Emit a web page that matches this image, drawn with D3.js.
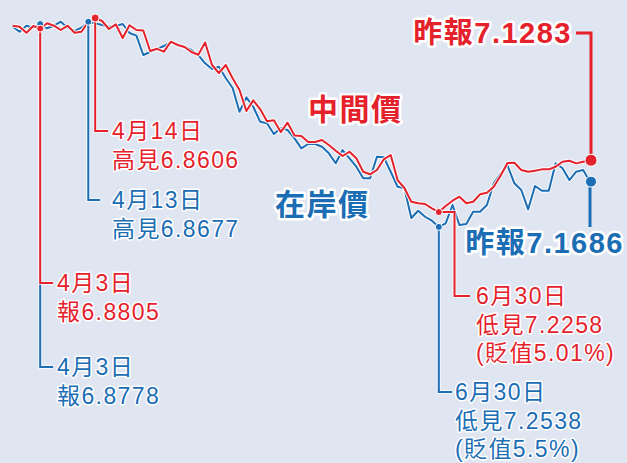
<!DOCTYPE html>
<html>
<head>
<meta charset="utf-8">
<script src="https://cdn.jsdelivr.net/npm/d3@7"></script>
<style>
body{margin:0;background:#dfe5f1;}
svg{display:block;}
text{font-family:"Liberation Sans","Noto Sans CJK TC",sans-serif;paint-order:stroke;stroke:#fff;stroke-linejoin:round;}
</style>
</head>
<body>
<div id="chart"></div>
<script>
// trading days 2023-03-28 .. 2023-08-01
var dates = ["3/28","3/29","3/30","3/31",
"4/3","4/4","4/6","4/7","4/10","4/11","4/12","4/13","4/14","4/17","4/18","4/19","4/20","4/21","4/24","4/25","4/26","4/27","4/28",
"5/4","5/5","5/8","5/9","5/10","5/11","5/12","5/15","5/16","5/17","5/18","5/19","5/22","5/23","5/24","5/25","5/26","5/29","5/30","5/31",
"6/1","6/2","6/5","6/6","6/7","6/8","6/9","6/12","6/13","6/14","6/15","6/16","6/19","6/20","6/21","6/26","6/27","6/28","6/29","6/30",
"7/3","7/4","7/5","7/6","7/7","7/10","7/11","7/12","7/13","7/14","7/17","7/18","7/19","7/20","7/21","7/24","7/25","7/26","7/27","7/28","7/31",
"8/1"];

// 中間價
var midRate = [6.8751,6.8770,6.8883,6.8757,6.8805,6.8706,6.8751,6.8832,6.8751,6.8883,6.8864,6.8681,6.8606,6.8662,6.8813,6.8725,6.8983,6.8743,6.8832,6.8841,
6.9227,6.9186,6.9240,6.9052,6.9114,6.9152,6.9246,6.9297,6.9067,6.9491,6.9641,6.9491,6.9741,6.9962,7.0357,7.0156,7.0320,7.0549,7.0532,7.0753,
7.0577,7.0818,7.0828,7.0941,7.0941,7.0903,7.0997,7.1104,7.1204,7.1123,7.1247,7.1499,7.1548,7.1467,7.1266,7.1185,7.1656,7.1806,7.2064,7.2094,
7.2107,7.2188,7.2258,7.2145,7.2045,7.1970,7.2094,7.2064,7.1925,7.1895,7.1782,7.1571,7.1336,7.1330,7.1468,7.1500,7.1481,7.1455,7.1455,7.1405,
7.1311,7.1292,7.1342,7.1311,7.1283];

// 在岸價
var onshoreRate = [6.8770,6.8864,6.8751,6.8789,6.8720,6.8800,6.8751,6.8676,6.8789,6.8851,6.8789,6.8677,6.8706,6.8738,6.8770,6.8757,6.8719,6.8888,6.8939,6.9303,
6.9246,6.9190,6.9133,6.9063,6.9101,6.9146,6.9208,6.9303,6.9459,6.9566,6.9523,6.9736,6.9924,7.0370,7.0099,7.0276,7.0558,7.0588,7.0790,7.0683,
7.0714,7.0871,7.1059,7.0978,7.0978,7.1029,7.1153,7.1341,7.1091,7.1247,7.1405,7.1624,7.1624,7.1217,7.1228,7.1499,7.1782,7.1812,7.2371,7.2233,
7.2347,7.2422,7.2538,7.2471,7.2126,7.2503,7.2484,7.2253,7.2253,7.2126,7.1718,7.1530,7.1383,7.1718,7.1844,7.2207,7.1769,7.1857,7.1857,7.1341,
7.1435,7.1656,7.1499,7.1467,7.1686];

var seriesNames = ["中間價","在岸價"];

var RED = "#e5222b", BLUE = "#1b6db4";
var W = 627, H = 463;

var svg = d3.select("#chart").append("svg")
  .attr("width", W).attr("height", H);

var x = d3.scalePoint().domain(dates).range([12.7, 590]);
var y = d3.scaleLinear().domain([6.8606, 7.2538]).range([18, 226.9]);

function pt(series, date){
  var arr = series === "mid" ? midRate : onshoreRate;
  var i = dates.indexOf(date);
  return [x(date), y(arr[i])];
}

var line = d3.line()
  .x(function(d){ return x(d.date); })
  .y(function(d){ return y(d.v); });

function rows(arr){
  return dates.map(function(d,i){ return {date:d, v:arr[i]}; });
}

var lines = [{data:rows(onshoreRate), col:BLUE},{data:rows(midRate), col:RED}];

var g = svg.append("g");
lines.forEach(function(s){
  g.append("path").attr("d", line(s.data))
    .attr("fill","none").attr("stroke","#fff").attr("stroke-opacity",0.85)
    .attr("stroke-width",4).attr("stroke-linejoin","round");
  g.append("path").attr("d", line(s.data))
    .attr("fill","none").attr("stroke",s.col)
    .attr("stroke-width",2).attr("stroke-linejoin","round");
});

// annotations: leader path steps after the dot, then text
var notes = [
  {s:"on", date:"4/3", col:BLUE, r:3.5, steps:[["V",367],["H",53]], tx:57, ty:367, lines:["4月3日","報6.8778"]},
  {s:"mid", date:"4/3", col:RED, r:3.5, steps:[["V",283],["H",53]], tx:57, ty:283, lines:["4月3日","報6.8805"]},
  {s:"on", date:"4/13", col:BLUE, r:3.5, steps:[["V",200],["H",100]], tx:112, ty:200, lines:["4月13日","高見6.8677"]},
  {s:"mid", date:"4/14", col:RED, r:4, steps:[["V",131],["H",108]], tx:112, ty:131, lines:["4月14日","高見6.8606"]},
  {s:"on", date:"6/30", col:BLUE, r:3.5, steps:[["V",392],["H",452]], tx:455, ty:392, lines:["6月30日","低見7.2538","(貶值5.5%)"]},
  {s:"mid", date:"6/30", col:RED, r:3.5, steps:[["H",454.5],["V",296],["H",470]], tx:476, ty:296, lines:["6月30日","低見7.2258","(貶值5.01%)"]}
];

var ann = svg.append("g");
notes.forEach(function(n){
  var p = pt(n.s, n.date);
  var d = "M" + p[0] + "," + p[1];
  n.steps.forEach(function(st){ d += st[0] + st[1]; });
  ann.append("path").attr("d", d).attr("fill","none")
    .attr("stroke","#fff").attr("stroke-width",4).attr("stroke-opacity",0.7);
  ann.append("path").attr("d", d).attr("fill","none")
    .attr("stroke", n.col).attr("stroke-width",2);
  ann.append("circle").attr("cx",p[0]).attr("cy",p[1]).attr("r",n.r)
    .attr("fill",n.col).attr("stroke","#fff").attr("stroke-width",1);
  n.lines.forEach(function(t,i){
    ann.append("text").attr("x",n.tx).attr("y",n.ty + i*28.5)
      .attr("dy","0.36em").attr("fill",n.col)
      .attr("stroke-width",3).attr("font-size",23).attr("letter-spacing",1.4)
      .text(t);
  });
});

// latest values
var last = dates[dates.length-1];
var pm = pt("mid", last), po = pt("on", last);

ann.append("path").attr("d","M"+(pm[0]+1)+","+pm[1]+"V33H576")
  .attr("fill","none").attr("stroke",RED).attr("stroke-width",3);
ann.append("path").attr("d","M"+po[0]+","+po[1]+"V227")
  .attr("fill","none").attr("stroke",BLUE).attr("stroke-width",3);
ann.append("circle").attr("cx",pm[0]+1).attr("cy",pm[1]).attr("r",6)
  .attr("fill",RED).attr("stroke","#fff").attr("stroke-width",1);
ann.append("circle").attr("cx",po[0]+1).attr("cy",po[1]).attr("r",5.5)
  .attr("fill",BLUE).attr("stroke","#fff").attr("stroke-width",1);

function bigLabel(t, xx, yy, col, size, anchor){
  ann.append("text").attr("x",xx).attr("y",yy).attr("dy","0.36em")
    .attr("text-anchor",anchor).attr("fill",col)
    .attr("font-size",size).attr("font-weight","bold")
    .attr("letter-spacing",1.5).attr("stroke-width",5)
    .text(t);
}
bigLabel("昨報" + d3.format(".4f")(midRate[midRate.length-1]), 572, 33, RED, 29, "end");
bigLabel("昨報" + d3.format(".4f")(onshoreRate[onshoreRate.length-1]), 624, 243, BLUE, 29, "end");
bigLabel(seriesNames[0], 308, 109, RED, 30, "start");
bigLabel(seriesNames[1], 275, 204, BLUE, 30, "start");
</script>
</body>
</html>
